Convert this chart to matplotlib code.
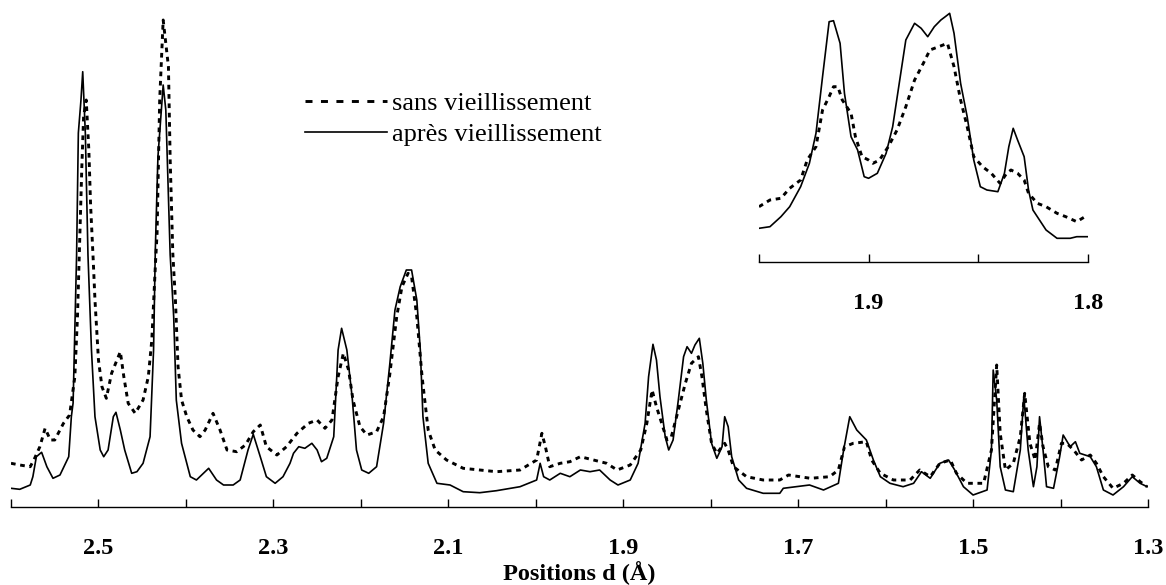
import matplotlib
matplotlib.use("Agg")
import matplotlib.pyplot as plt
from matplotlib.lines import Line2D

plt.rcParams['font.family'] = ['Liberation Serif', 'DejaVu Serif']

# ---------------- data (d-spacing in Å, intensity in arbitrary units) ----------------
d_apres = [2.600, 2.590, 2.578, 2.575, 2.571, 2.565, 2.559, 2.552, 2.544, 2.534, 2.531, 2.529,
           2.525, 2.523, 2.520, 2.518, 2.515, 2.513, 2.512, 2.508, 2.504, 2.498, 2.494, 2.489,
           2.483, 2.480, 2.475, 2.470, 2.462, 2.456, 2.449, 2.441, 2.437, 2.435, 2.432, 2.426,
           2.423, 2.418, 2.414, 2.411, 2.405, 2.395, 2.388, 2.374, 2.365, 2.357, 2.346, 2.338,
           2.329, 2.323, 2.315, 2.308, 2.298, 2.289, 2.281, 2.277, 2.271, 2.264, 2.256, 2.250,
           2.245, 2.239, 2.231, 2.226, 2.222, 2.216, 2.210, 2.205, 2.199, 2.191, 2.182, 2.174,
           2.167, 2.161, 2.155, 2.148, 2.142, 2.136, 2.132, 2.129, 2.123, 2.113, 2.098, 2.083,
           2.064, 2.045, 2.018, 1.999, 1.995, 1.991, 1.984, 1.972, 1.961, 1.949, 1.938, 1.927,
           1.915, 1.906, 1.892, 1.883, 1.875, 1.871, 1.866, 1.862, 1.858, 1.852, 1.848, 1.843,
           1.837, 1.831, 1.827, 1.822, 1.818, 1.813, 1.809, 1.805, 1.799, 1.793, 1.787, 1.784,
           1.780, 1.776, 1.768, 1.759, 1.740, 1.721, 1.717, 1.702, 1.687, 1.671, 1.654, 1.648,
           1.641, 1.633, 1.622, 1.614, 1.606, 1.595, 1.580, 1.568, 1.559, 1.549, 1.538, 1.528,
           1.521, 1.511, 1.500, 1.484, 1.479, 1.477, 1.473, 1.469, 1.463, 1.454, 1.446, 1.442,
           1.437, 1.431, 1.427, 1.424, 1.420, 1.416, 1.408, 1.401, 1.397, 1.389, 1.383, 1.378,
           1.366, 1.359, 1.351, 1.340, 1.328, 1.318, 1.309, 1.301]
I_apres = [18.7, 17.7, 22, 30.3, 50.3, 54.7, 40.3, 28.7, 32, 50.3, 90.3, 104,
           252, 374, 407, 435.3, 373.7, 290.3, 252, 157, 90.3, 57, 50.3, 57,
           90.3, 94.7, 77, 57, 33.7, 35.3, 43.7, 70.3, 157, 257, 350.3, 422,
           397, 252, 190.3, 107, 63.7, 30.3, 27, 38.7, 27, 22, 22, 27,
           57, 72.7, 50.3, 30.3, 23.7, 30.3, 43.7, 53.7, 60.3, 58.7, 63.7, 57,
           45.3, 48.7, 70.3, 157, 178.7, 157, 110.3, 57, 37, 33.7, 40.3, 83.7,
           142, 197, 220.3, 237, 237, 207, 157, 90.3, 43.7, 23.7, 22, 15.3,
           14.3, 16.3, 20.3, 27, 43.7, 30.3, 27, 33.7, 30.3, 37, 35.3, 37,
           27, 22, 27, 43.7, 83.7, 130.3, 162.7, 147, 110.3, 70.3, 57, 67,
           107, 150.3, 160.3, 153.7, 162, 168.7, 143.7, 107, 63.7, 48.7, 60.3, 90.3,
           80.3, 50.3, 27, 18.7, 13.7, 13.7, 18.7, 20.3, 22, 17, 23.7, 57,
           90.3, 77, 67, 47, 30.3, 23.7, 20.3, 23.7, 35.3, 28.7, 43.7, 47,
           37, 20.3, 12, 17, 57, 137, 107, 40.3, 17, 15.3, 57, 110.3,
           57, 20.3, 40.3, 90.3, 57, 20.3, 18.7, 50.3, 72, 60.3, 65.3, 53.7,
           50.3, 40.3, 17, 12, 20.3, 30.3, 23.7, 20.3]

d_sans = [2.600, 2.590, 2.578, 2.573, 2.567, 2.561, 2.555, 2.550, 2.540, 2.533, 2.527, 2.524,
          2.519, 2.517, 2.514, 2.511, 2.509, 2.506, 2.504, 2.500, 2.496, 2.491, 2.485, 2.475,
          2.471, 2.466, 2.458, 2.449, 2.443, 2.439, 2.435, 2.433, 2.430, 2.426, 2.420, 2.418,
          2.415, 2.412, 2.409, 2.405, 2.399, 2.392, 2.384, 2.378, 2.369, 2.361, 2.353, 2.342,
          2.332, 2.323, 2.315, 2.308, 2.296, 2.285, 2.273, 2.260, 2.250, 2.241, 2.233, 2.226,
          2.220, 2.214, 2.209, 2.201, 2.193, 2.182, 2.174, 2.167, 2.159, 2.153, 2.146, 2.142,
          2.136, 2.130, 2.123, 2.115, 2.102, 2.083, 2.064, 2.045, 2.018, 1.999, 1.993, 1.989,
          1.984, 1.972, 1.961, 1.949, 1.934, 1.919, 1.907, 1.892, 1.880, 1.873, 1.867, 1.862,
          1.856, 1.850, 1.845, 1.837, 1.829, 1.822, 1.814, 1.810, 1.805, 1.799, 1.793, 1.784,
          1.780, 1.774, 1.759, 1.740, 1.721, 1.711, 1.686, 1.664, 1.654, 1.647, 1.637, 1.622,
          1.616, 1.606, 1.591, 1.572, 1.561, 1.549, 1.538, 1.526, 1.519, 1.507, 1.488, 1.479,
          1.473, 1.469, 1.463, 1.454, 1.446, 1.441, 1.435, 1.429, 1.424, 1.420, 1.414, 1.406,
          1.399, 1.393, 1.385, 1.376, 1.366, 1.359, 1.351, 1.340, 1.328, 1.318, 1.309, 1.301]
I_sans = [43.7, 42, 40.3, 48.7, 60.3, 78.7, 67, 67, 83.7, 92, 130.3, 190.3,
          340.3, 390.3, 407, 357, 302, 247, 207, 147, 120.3, 108.7, 133.7, 155.3,
          130.3, 103.7, 93.7, 107, 130.3, 167, 240.3, 273.7, 407, 487, 440.3, 347,
          253.7, 207, 140.3, 107, 90.3, 77, 70.3, 77, 93.7, 77, 57, 55.3,
          62, 75.3, 82, 60.3, 52, 60.3, 73.7, 83.7, 87, 78.7, 87, 130.3,
          153.7, 137, 107, 80.3, 72, 75.3, 90.3, 132, 190.3, 220.3, 233.7, 230.3,
          190.3, 130.3, 77, 57, 47, 38.7, 37, 35.3, 37, 47, 73.7, 60.3,
          40.3, 43.7, 45.3, 50.3, 47, 43.7, 37, 42, 57, 83.7, 117, 100.3,
          83.7, 67, 70.3, 97, 123.7, 143.7, 150.3, 130.3, 97, 63.7, 53.7, 63.7,
          57, 40.3, 30.3, 27, 27, 32, 28.7, 30.3, 37, 60.3, 63.7, 65.3,
          47, 33.7, 27, 27, 37, 30.3, 43.7, 47, 33.7, 23.7, 23.7, 57,
          142, 73.7, 37, 43.7, 70.3, 113.7, 63.7, 47, 83.7, 60.3, 40.3, 37,
          63.7, 63.7, 57, 47, 52, 43.7, 30.3, 18.7, 23.7, 32, 25.3, 20.3]

# inset (zoom on the 1.95 - 1.80 region)
d_ins_apres = [1.950, 1.945, 1.940, 1.936, 1.931, 1.927, 1.924, 1.921, 1.918, 1.916, 1.913, 1.911,
               1.908, 1.905, 1.902, 1.900, 1.896, 1.892, 1.889, 1.886, 1.883, 1.879, 1.876, 1.873,
               1.870, 1.867, 1.865, 1.863, 1.861, 1.858, 1.855, 1.852, 1.849, 1.846, 1.841, 1.838,
               1.836, 1.834, 1.832, 1.829, 1.827, 1.825, 1.822, 1.819, 1.814, 1.808, 1.805, 1.800]
I_ins_apres = [33.4, 35, 45, 55, 75, 98.4, 128.4, 185, 240, 241, 218.4, 168.4,
               125, 111.7, 85, 83.4, 88.4, 108.4, 135, 178.4, 221.7, 238.4, 233.4, 225,
               235, 241.7, 245, 248.4, 228.4, 178.4, 145, 101.7, 75, 71.7, 70, 88.4,
               115, 133.4, 121.7, 105, 71.7, 51.7, 41.7, 31.7, 23.4, 23.4, 25, 25]
d_ins_sans = [1.950, 1.945, 1.940, 1.936, 1.931, 1.928, 1.924, 1.921, 1.918, 1.916, 1.914, 1.912,
              1.908, 1.906, 1.903, 1.900, 1.898, 1.895, 1.891, 1.887, 1.883, 1.879, 1.875, 1.872,
              1.868, 1.864, 1.861, 1.858, 1.855, 1.852, 1.848, 1.844, 1.840, 1.837, 1.835, 1.832,
              1.829, 1.827, 1.823, 1.819, 1.814, 1.810, 1.805, 1.800]
I_ins_sans = [55, 61.7, 63.4, 73.4, 81.7, 101.7, 115, 151.7, 165, 175, 175, 161.7,
              148.4, 125, 105, 101.7, 98.4, 101.7, 115, 131.7, 155, 181.7, 198.4, 211.7,
              215, 218.4, 195, 161.7, 135, 105, 95, 88.4, 78.4, 88.4, 91.7, 88.4,
              81.7, 68.4, 58.4, 55, 48.4, 45, 40, 46.7]

main_ticks = [2.6, 2.5, 2.4, 2.3, 2.2, 2.1, 2.0, 1.9, 1.8, 1.7, 1.6, 1.5, 1.4, 1.3]
main_labels = ['', '2.5', '', '2.3', '', '2.1', '', '1.9', '', '1.7', '', '1.5', '', '1.3']
inset_ticks = [1.95, 1.90, 1.85, 1.80]
inset_labels = ['', '1.9', '', '1.8']

label_sans = 'sans vieillissement'
label_apres = 'après vieillissement'
xlabel = 'Positions d (Å)'

# ---------------- figure ----------------
W, H = 1166, 585
fig = plt.figure(figsize=(W / 100, H / 100), dpi=100)

dash_style = (0, (1.6, 1.6))
TICK_FS = 17.5


def style_axis(ax, ticks, labels):
    for s in ('left', 'right', 'top'):
        ax.spines[s].set_visible(False)
    ax.spines['bottom'].set_linewidth(1.0)
    ax.set_yticks([])
    ax.set_xticks(ticks)
    ax.set_xticklabels(labels)
    ax.tick_params(axis='x', direction='in', length=6, width=1.0, pad=22.5,
                   labelsize=TICK_FS)
    for t in ax.get_xticklabels():
        t.set_fontweight('bold')
    ax.patch.set_alpha(0)


# main axes
ax = fig.add_axes([11 / W, 1 - 507 / H, (1148 - 11) / W, 507 / H])
ax.plot(d_sans, I_sans, color='black', lw=2.1, linestyle=dash_style)
ax.plot(d_apres, I_apres, color='black', lw=1.2)
ax.set_xlim(2.6, 1.3)
ax.set_ylim(0, 507)
style_axis(ax, main_ticks, main_labels)
ax.set_xlabel(xlabel, fontsize=TICK_FS, fontweight='bold', labelpad=1)

handles = [Line2D([], [], color='black', lw=2.1, linestyle=(0, (2.4, 2.9))),
           Line2D([], [], color='black', lw=1.2)]
leg = ax.legend(handles, [label_sans, label_apres], loc='upper left',
                bbox_to_anchor=(305 / W, 1 - 92 / H), bbox_transform=fig.transFigure,
                frameon=False, fontsize=19, handlelength=3.1, handletextpad=0.2,
                labelspacing=0.26, borderpad=0, borderaxespad=0)

# inset axes
axi = fig.add_axes([759 / W, 1 - 261.7 / H, (1087.7 - 759) / W, 261.7 / H])
axi.plot(d_ins_sans, I_ins_sans, color='black', lw=2.1, linestyle=dash_style)
axi.plot(d_ins_apres, I_ins_apres, color='black', lw=1.2)
axi.set_xlim(1.95, 1.80)
axi.set_ylim(0, 261.7)
style_axis(axi, inset_ticks, inset_labels)

fig.savefig('out.png', dpi=100)
